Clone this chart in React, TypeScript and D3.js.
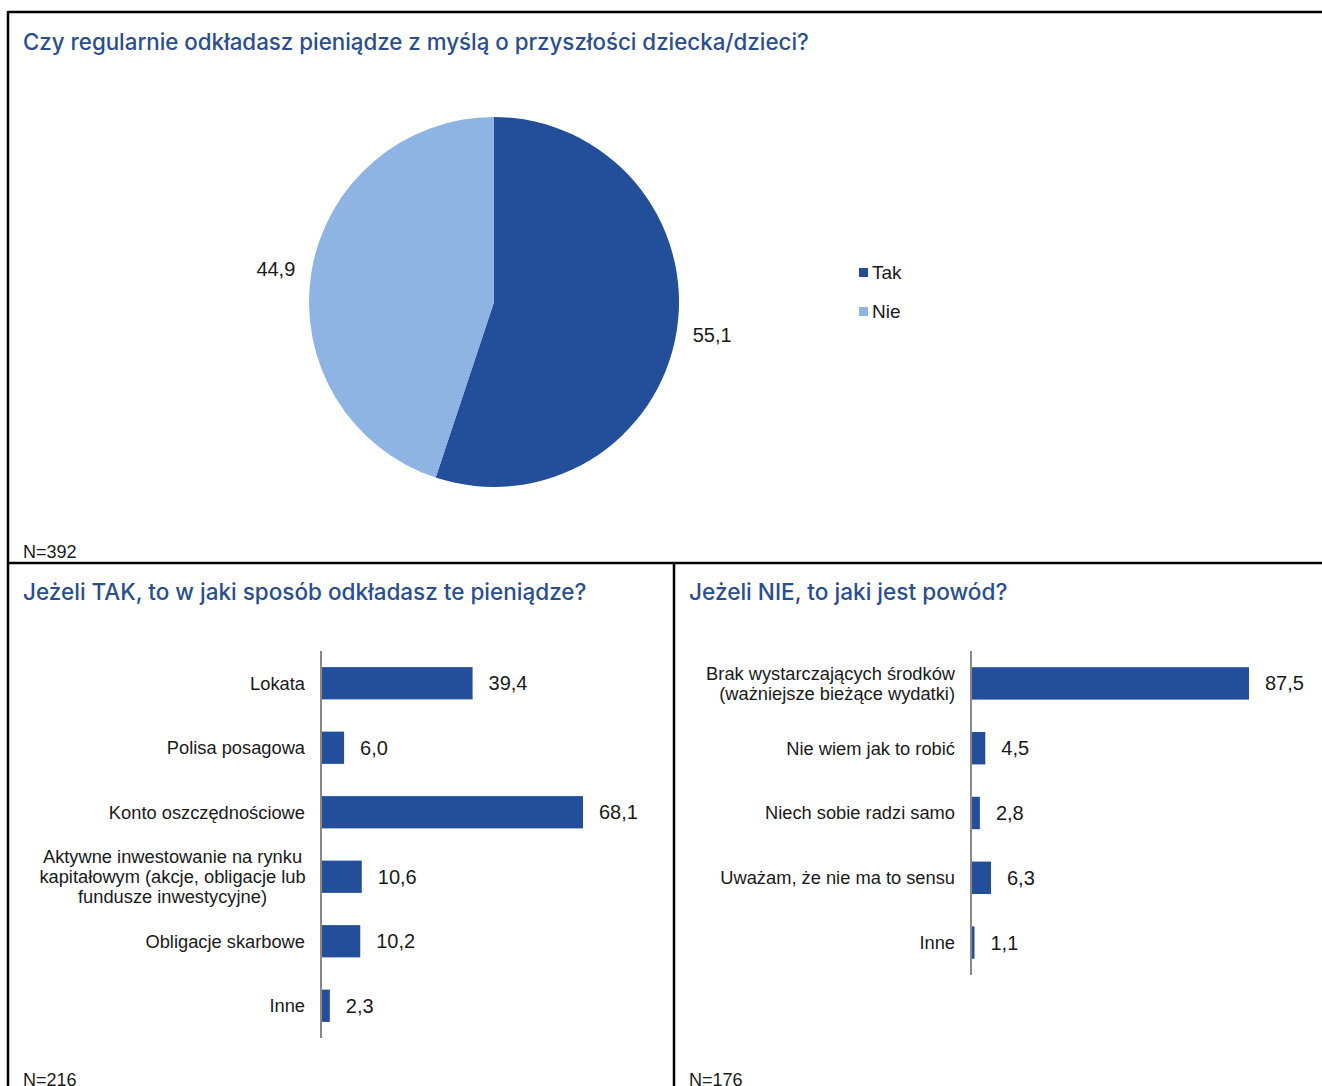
import React from "react";
import * as d3 from "d3";

const pieTitle = "Czy regularnie odkładasz pieniądze z myślą o przyszłości dziecka/dzieci?";
const pieCategories = ["Tak", "Nie"];
const pieValues = [55.1, 44.9];
const pieColors = ["#224E9A", "#8EB4E3"];

const leftTitle = "Jeżeli TAK, to w jaki sposób odkładasz te pieniądze?";
const leftCategories = [
  ["Lokata"],
  ["Polisa posagowa"],
  ["Konto oszczędnościowe"],
  ["Aktywne inwestowanie na rynku", "kapitałowym (akcje, obligacje lub", "fundusze inwestycyjne)"],
  ["Obligacje skarbowe"],
  ["Inne"],
];
const leftValues = [39.4, 6.0, 68.1, 10.6, 10.2, 2.3];

const rightTitle = "Jeżeli NIE, to jaki jest powód?";
const rightCategories = [
  ["Brak wystarczających środków", "(ważniejsze bieżące wydatki)"],
  ["Nie wiem jak to robić"],
  ["Niech sobie radzi samo"],
  ["Uważam, że nie ma to sensu"],
  ["Inne"],
];
const rightValues = [87.5, 4.5, 2.8, 6.3, 1.1];

const nLabels = ["N=392", "N=216", "N=176"];

const titleColor = "#2A4E8E";
const textColor = "#1a1a1a";
const barColor = "#224E9A";
const titleFont = "Inter, 'Liberation Sans', sans-serif";
const labelFont = "'Liberation Sans', Arial, sans-serif";

const fmt = (v: number) => v.toFixed(1).replace(".", ",");

function BarChart({
  categories,
  values,
  axisX,
  top,
  bottom,
  domainMax,
  width,
}: {
  categories: string[][];
  values: number[];
  axisX: number;
  top: number;
  bottom: number;
  domainMax: number;
  width: number;
}) {
  const y = d3
    .scaleBand<number>()
    .domain(values.map((_, i) => i))
    .range([top, bottom])
    .paddingInner(0.5)
    .paddingOuter(0.25);
  const x = d3.scaleLinear().domain([0, domainMax]).range([axisX, axisX + width]);
  return (
    <g>
      {values.map((v, i) => {
        const y0 = y(i)!;
        const bw = y.bandwidth();
        const cy = y0 + bw / 2;
        const lines = categories[i];
        const lh = 20;
        const multi = lines.length === 3;
        return (
          <g key={i}>
            <rect x={x(0)} y={y0} width={x(v) - x(0)} height={bw} fill={barColor} />
            <text
              x={x(v) + 16}
              y={cy}
              dy="0.35em"
              fontFamily={labelFont}
              fontSize={20}
              fill={textColor}
            >
              {fmt(v)}
            </text>
            {lines.map((ln, j) => (
              <text
                key={j}
                x={multi ? axisX - 148.5 : axisX - 16}
                y={cy + (j - (lines.length - 1) / 2) * lh}
                dy="0.35em"
                textAnchor={multi ? "middle" : "end"}
                fontFamily={labelFont}
                fontSize={18.3}
                fill={textColor}
              >
                {ln}
              </text>
            ))}
          </g>
        );
      })}
      <line x1={axisX} x2={axisX} y1={top} y2={bottom} stroke="#888" strokeWidth={2} />
    </g>
  );
}

export default function App() {
  const W = 1322;
  const H = 1086;
  const cx = 494;
  const cy = 302;
  const r = 185;
  const pie = d3
    .pie<number>()
    .sort(null)
    .value((d) => d)(pieValues);
  const arc = d3.arc<d3.PieArcDatum<number>>().innerRadius(0).outerRadius(r);
  const labelArc = d3.arc<d3.PieArcDatum<number>>().innerRadius(221).outerRadius(221);

  return (
    <div style={{ position: "absolute", left: 0, top: 0 }}>
      <svg width={W} height={H} style={{ display: "block", background: "#fff" }}>
        {/* frame */}
        <line x1={8} x2={W} y1={12} y2={12} stroke="#000" strokeWidth={2.5} />
        <line x1={8} x2={8} y1={11} y2={H} stroke="#000" strokeWidth={2.5} />
        <line x1={8} x2={W} y1={563} y2={563} stroke="#000" strokeWidth={2.5} />
        <line x1={674} x2={674} y1={563} y2={H} stroke="#000" strokeWidth={2.5} />

        {/* pie */}
        <text x={23} y={50} fontFamily={titleFont} fontSize={22.3} fontWeight={500} fill={titleColor}>
          {pieTitle}
        </text>
        <g transform={`translate(${cx},${cy})`}>
          {pie.map((d, i) => (
            <path key={i} d={arc(d)!} fill={pieColors[i]} />
          ))}
          {pie.map((d, i) => {
            const [lx, ly] = labelArc.centroid(d);
            return (
              <text
                key={"l" + i}
                x={lx}
                y={ly * 0.93}
                dy="0.35em"
                textAnchor="middle"
                fontFamily={labelFont}
                fontSize={20}
                fill={textColor}
              >
                {fmt(d.data)}
              </text>
            );
          })}
        </g>
        {pieCategories.map((c, i) => (
          <g key={c} transform={`translate(859,${268 + i * 39})`}>
            <rect x={0} y={0} width={9} height={9} fill={pieColors[i]} />
            <text x={13} y={4.5} dy="0.35em" fontFamily={labelFont} fontSize={19} fill={textColor}>
              {c}
            </text>
          </g>
        ))}
        <text x={23} y={558} fontFamily={labelFont} fontSize={18} fill={textColor}>
          {nLabels[0]}
        </text>

        {/* left bars */}
        <text x={23} y={600} fontFamily={titleFont} fontSize={22.5} fontWeight={500} fill={titleColor}>
          {leftTitle}
        </text>
        <BarChart
          categories={leftCategories}
          values={leftValues}
          axisX={321}
          top={651}
          bottom={1038}
          domainMax={80}
          width={80 * 3.847}
        />
        <text x={23} y={1086} fontFamily={labelFont} fontSize={18} fill={textColor}>
          {nLabels[1]}
        </text>

        {/* right bars */}
        <text x={689} y={600} fontFamily={titleFont} fontSize={22.6} fontWeight={500} fill={titleColor}>
          {rightTitle}
        </text>
        <BarChart
          categories={rightCategories}
          values={rightValues}
          axisX={971}
          top={651}
          bottom={975}
          domainMax={100}
          width={100 * 3.177}
        />
        <text x={689} y={1086} fontFamily={labelFont} fontSize={18} fill={textColor}>
          {nLabels[2]}
        </text>
      </svg>
    </div>
  );
}
